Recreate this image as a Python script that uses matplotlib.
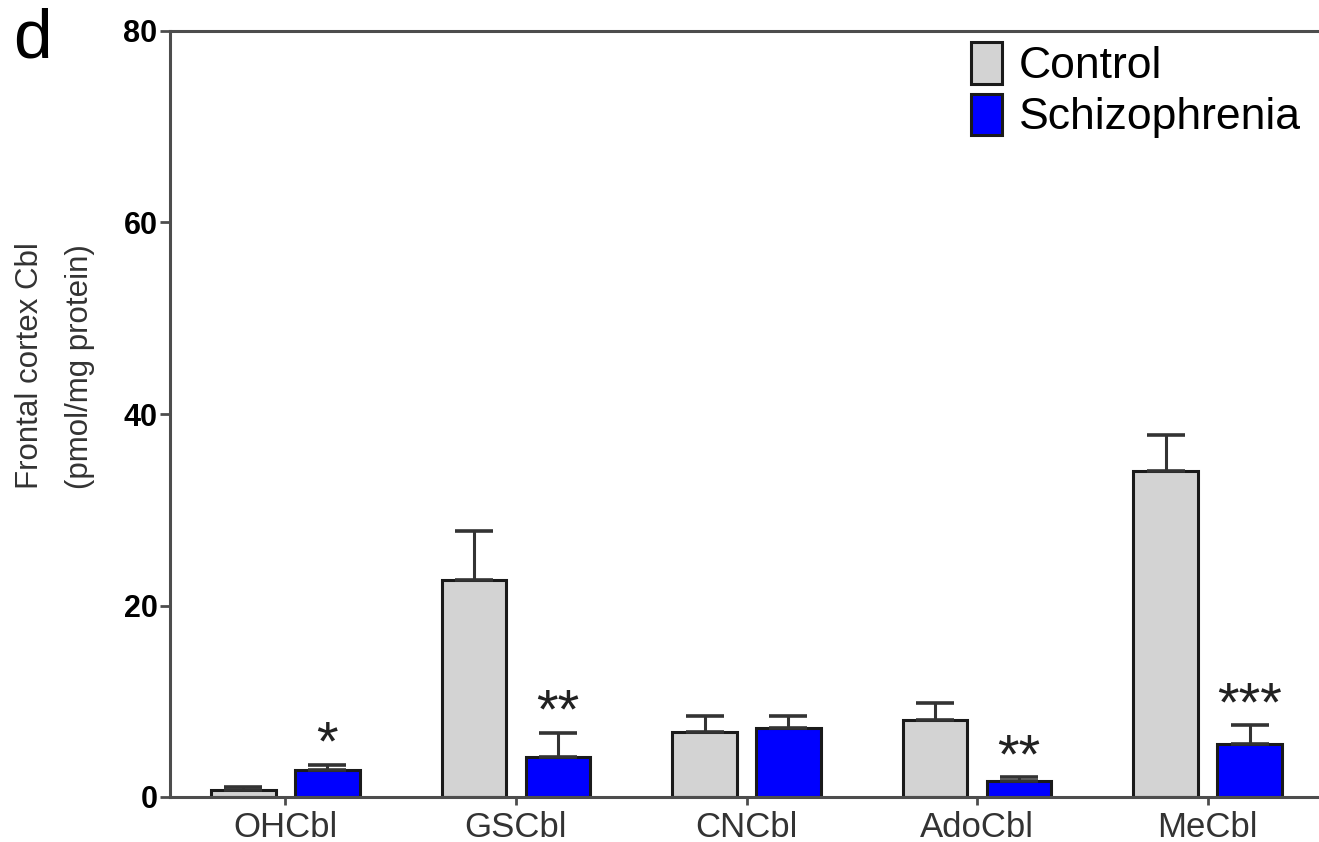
import matplotlib
matplotlib.use("Agg")
import matplotlib.pyplot as plt
import numpy as np

FONT = ["Liberation Sans", "DejaVu Sans"]
plt.rcParams["font.family"] = FONT

categories = ["OHCbl", "GSCbl", "CNCbl", "AdoCbl", "MeCbl"]
control = [0.73, 22.7, 6.8, 8.0, 34.0]
control_err = [0.34, 5.1, 1.65, 1.85, 3.8]
schizo = [2.8, 4.2, 7.2, 1.7, 5.5]
schizo_err = [0.55, 2.5, 1.25, 0.35, 2.0]
stars = ["*", "**", "", "**", "***"]
yticks = [0, 20, 40, 60, 80]

GREY = "#d3d3d3"
BLUE = "#0000ff"
EDGE = "#1a1a1a"
SPINE = "#4d4d4d"

fig = plt.figure(figsize=(13.19, 8.42), dpi=100)
ax = fig.add_axes([170 / 1319, 1 - 797 / 842, 1153 / 1319, 766 / 842])

x = np.arange(len(categories))
off = 0.182
w = 0.28

ax.bar(x - off, control, w, color=GREY, edgecolor=EDGE, linewidth=2.2, zorder=2, label="Control")
ax.bar(x + off, schizo, w, color=BLUE, edgecolor=EDGE, linewidth=2.2, zorder=2, label="Schizophrenia")
ax.errorbar(x - off, control, yerr=[np.zeros(len(x)), control_err], fmt="none",
            ecolor="#333333", elinewidth=2.2, capsize=14, capthick=2.6, zorder=3)
ax.errorbar(x + off, schizo, yerr=[np.zeros(len(x)), schizo_err], fmt="none",
            ecolor="#333333", elinewidth=2.2, capsize=14, capthick=2.6, zorder=3)

# significance marks above the schizophrenia bars
for xi, v, e, s in zip(x, schizo, schizo_err, stars):
    if s:
        ax.annotate(s, (xi + off, v + e), xytext=(0, -5), textcoords="offset points",
                    ha="center", va="bottom", fontsize=40, color="#222222")

ax.set_xlim(-0.5, 4.5)
ax.set_ylim(0, 80)
ax.set_yticks(yticks)
ax.set_xticks(x)
ax.set_xticklabels(categories, fontsize=25, color="#333333")
ax.set_yticklabels([str(t) for t in yticks], fontsize=22, fontweight="bold")

for side in ["left", "bottom", "top"]:
    ax.spines[side].set_color(SPINE)
    ax.spines[side].set_linewidth(2.2)
ax.spines["right"].set_visible(False)
ax.tick_params(axis="y", direction="out", length=7, width=2, color=SPINE, pad=2)
ax.tick_params(axis="x", direction="out", length=6, width=2, color=SPINE, pad=4)

ax.legend(loc="upper left", bbox_to_anchor=(971 / 1319, 1 - 42 / 842), bbox_transform=fig.transFigure,
          frameon=False, fontsize=32, handlelength=0.7, handleheight=1.06, labelspacing=0.15,
          handletextpad=0.38, borderpad=0, borderaxespad=0)

fig.text(30 / 1319, 1 - 366 / 842, "Frontal cortex Cbl", rotation=90, ha="center", va="center",
         fontsize=22.5, color="#333333")
fig.text(80 / 1319, 1 - 367 / 842, "(pmol/mg protein)", rotation=90, ha="center", va="center",
         fontsize=22.5, color="#333333")
fig.text(13 / 1319, 1 - 8 / 842, "d", ha="left", va="top", fontsize=50, color="black")

fig.savefig("out.png", dpi=100)
